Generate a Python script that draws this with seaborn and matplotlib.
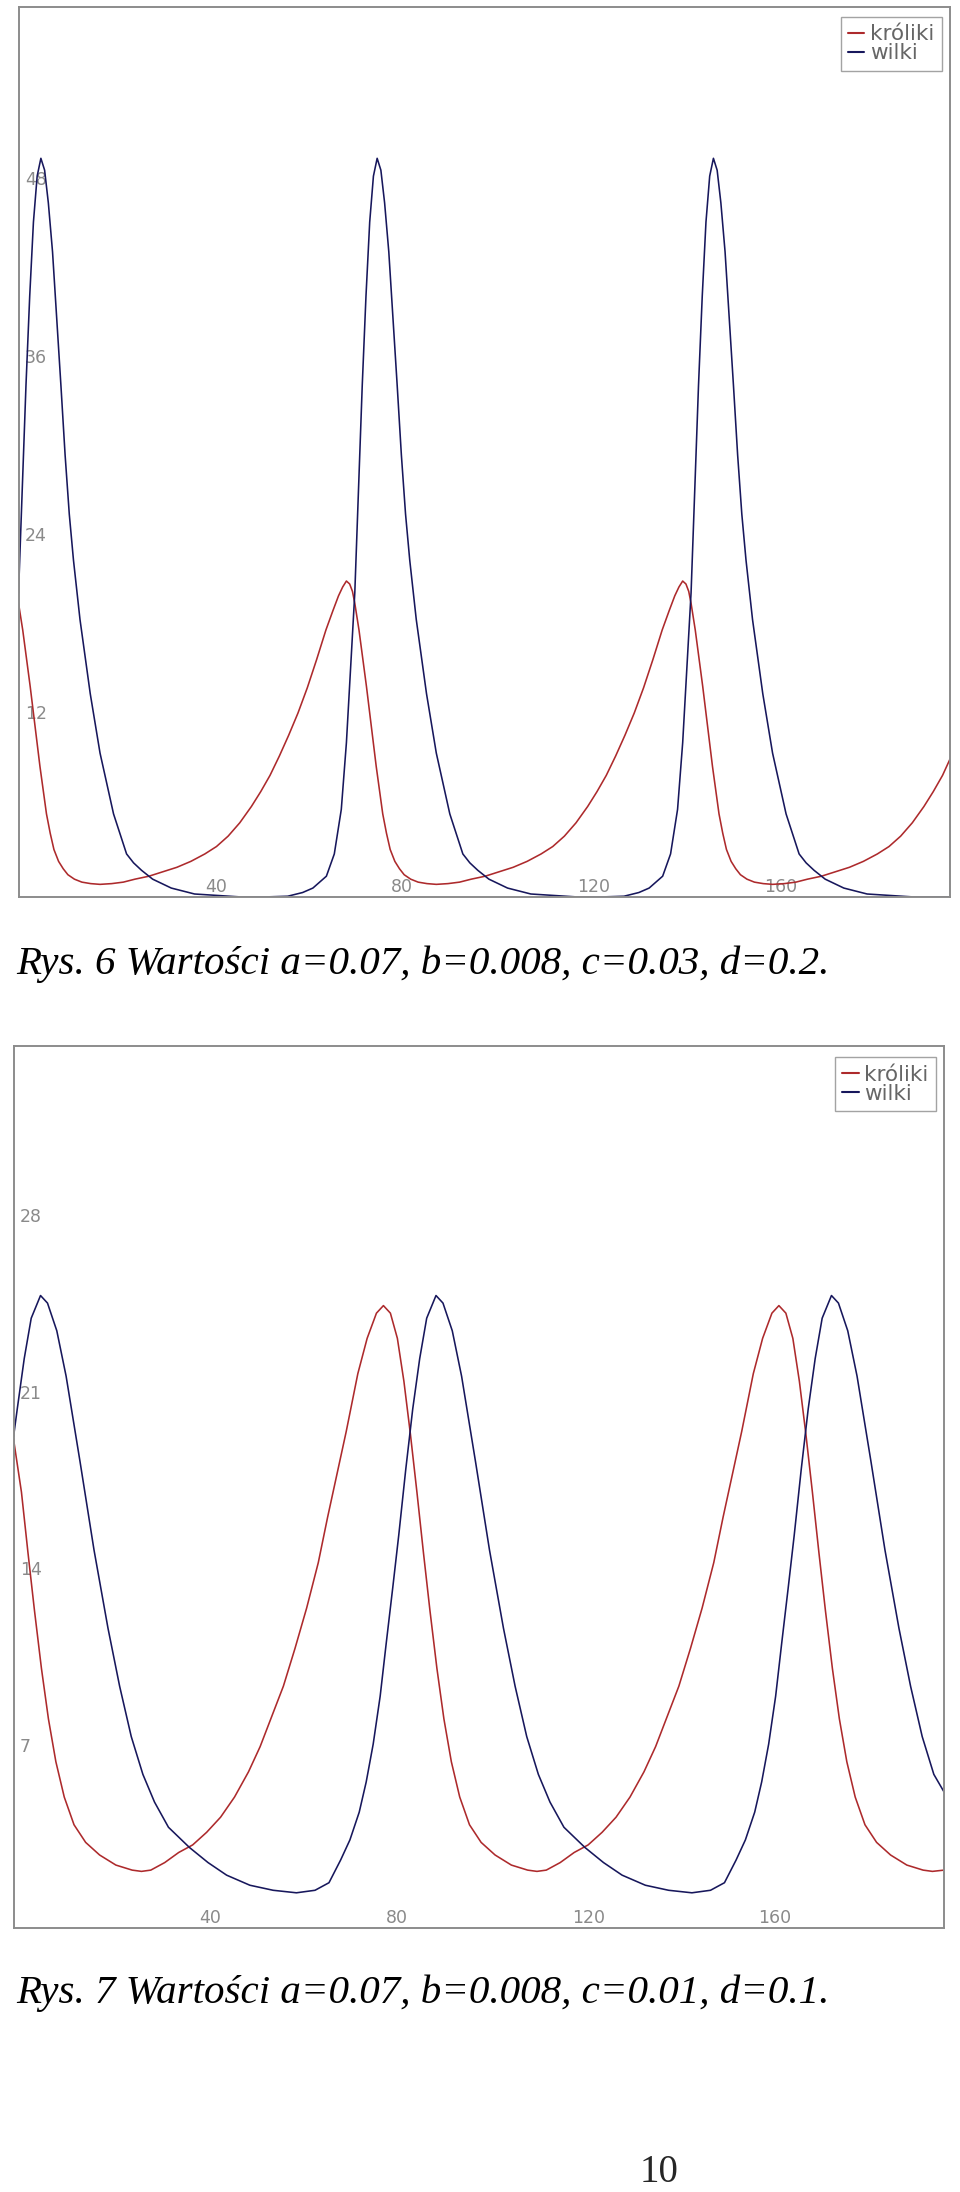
import numpy as np
import pandas as pd
import matplotlib
matplotlib.use("Agg")
import matplotlib.pyplot as plt
import seaborn as sns

# ─────────────────────────────────────────
# DATA
# ─────────────────────────────────────────
# Rys. 6: a=0.07, b=0.008, c=0.03, d=0.2
t_kroliki_6 = [0.0, 0.9, 1.7, 2.5, 3.2, 3.9, 4.6, 5.3, 6.0, 6.8, 7.6, 8.6, 9.6, 10.6, 12.0, 13.6,
               15.5, 17.5, 20.0, 22.5, 25.0, 28.0, 31.0, 34.0, 37.0, 40.0, 42.5, 45.0, 47.5, 50.0,
               52.0, 54.0, 56.0, 58.0, 60.0, 62.0, 64.0, 66.0, 67.5, 68.7, 69.6, 70.4, 71.1, 71.7,
               72.2, 73.1, 73.9, 74.7, 75.4, 76.1, 76.8, 77.5, 78.2, 79.0, 79.8, 80.8, 81.8, 82.8,
               84.2, 85.8, 87.7, 89.7, 92.2, 94.7, 97.2, 100.2, 103.2, 106.2, 109.2, 112.2, 114.7,
               117.2, 119.7, 122.2, 124.2, 126.2, 128.2, 130.2, 132.2, 134.2, 136.2, 138.2, 139.7,
               140.9, 141.8, 142.6, 143.3, 143.9,
               144.4, 145.3, 146.1, 146.9, 147.6, 148.3, 149.0, 149.7, 150.4, 151.2, 152.0, 153.0,
               154.0, 155.0, 156.4, 158.0, 159.9, 161.9, 164.4, 166.9, 169.4, 172.4, 175.4, 178.4,
               181.4, 184.4, 186.9, 189.4, 191.9, 194.4, 196.4, 198.4, 200.0]
kroliki_6 = [19.8, 18.0, 16.1, 14.2, 12.4, 10.6, 8.8, 7.2, 5.6, 4.3, 3.2, 2.4, 1.9, 1.5, 1.2, 1.0,
             0.9, 0.85, 0.9, 1.0, 1.2, 1.4, 1.7, 2.0, 2.4, 2.9, 3.4, 4.1, 5.0, 6.1,
             7.1, 8.2, 9.5, 10.9, 12.4, 14.1, 16.0, 18.0, 19.3, 20.3, 20.9, 21.3, 21.1, 20.6,
             19.8, 18.0, 16.1, 14.2, 12.4, 10.6, 8.8, 7.2, 5.6, 4.3, 3.2, 2.4, 1.9, 1.5,
             1.2, 1.0, 0.9, 0.85, 0.9, 1.0, 1.2, 1.4, 1.7, 2.0, 2.4, 2.9, 3.4,
             4.1, 5.0, 6.1, 7.1, 8.2, 9.5, 10.9, 12.4, 14.1, 16.0, 18.0, 19.3,
             20.3, 20.9, 21.3, 21.1, 20.6,
             19.8, 18.0, 16.1, 14.2, 12.4, 10.6, 8.8, 7.2, 5.6, 4.3, 3.2, 2.4,
             1.9, 1.5, 1.2, 1.0, 0.9, 0.85, 0.9, 1.0, 1.2, 1.4, 1.7, 2.0,
             2.4, 2.9, 3.4, 4.1, 5.0, 6.1, 7.1, 8.2, 9.3]

t_wilki_6 = [0.0, 0.8, 1.6, 2.4, 3.2, 4.0, 4.8, 5.6, 6.4, 7.3, 8.2, 9.1, 10.0, 10.9, 11.8, 13.2,
             15.4, 17.5, 20.4, 23.2, 24.7, 26.4, 28.8, 32.8, 37.8, 42.8, 47.8, 52.8, 57.8, 61.0,
             63.2, 66.1, 67.8, 69.3, 70.4, 71.4, 72.2,
             73.0, 73.8, 74.6, 75.4, 76.2, 77.0, 77.8, 78.6, 79.5, 80.4, 81.3, 82.2, 83.1, 84.0,
             85.4, 87.6, 89.7, 92.6, 95.4, 96.9, 98.6, 101.0, 105.0, 110.0, 115.0, 120.0, 125.0,
             130.0, 133.2, 135.4, 138.3, 140.0, 141.5, 142.6, 143.6, 144.4,
             145.2, 146.0, 146.8, 147.6, 148.4, 149.2, 150.0, 150.8, 151.7, 152.6, 153.5, 154.4,
             155.3, 156.2, 157.6, 159.8, 161.9, 164.8, 167.6, 169.1, 170.8, 173.2, 177.2, 182.2,
             187.2, 192.2, 197.2, 200.0]
wilki_6 = [20.5, 27.5, 34.5, 40.5, 45.5, 48.6, 49.8, 49.0, 46.8, 43.5, 39.0, 34.5, 29.8, 25.8, 22.7, 18.7,
           13.7, 9.7, 5.6, 2.9, 2.3, 1.8, 1.2, 0.6, 0.2, 0.1, 0.0, 0.0, 0.05, 0.3,
           0.6, 1.4, 2.9, 5.9, 10.4, 16.0, 20.5,
           27.5, 34.5, 40.5, 45.5, 48.6, 49.8, 49.0, 46.8, 43.5, 39.0, 34.5, 29.8, 25.8, 22.7,
           18.7, 13.7, 9.7, 5.6, 2.9, 2.3, 1.8, 1.2, 0.6, 0.2, 0.1, 0.0, 0.0,
           0.05, 0.3, 0.6, 1.4, 2.9, 5.9, 10.4, 16.0, 20.5,
           27.5, 34.5, 40.5, 45.5, 48.6, 49.8, 49.0, 46.8, 43.5, 39.0, 34.5, 29.8,
           25.8, 22.7, 18.7, 13.7, 9.7, 5.6, 2.9, 2.3, 1.8, 1.2, 0.6, 0.2,
           0.1, 0.0, 0.0, 0.0]

# Rys. 7: a=0.07, b=0.008, c=0.01, d=0.1
t_kroliki_7 = [0.0, 1.7, 3.1, 4.5, 6.0, 7.5, 9.1, 10.9, 13.0, 15.5, 18.5, 22.0, 25.5, 27.5, 29.5,
               32.5, 35.5, 38.5, 41.5, 44.5, 47.5, 50.5, 53.0, 55.5, 58.0, 60.5, 63.0, 65.5, 67.5,
               69.5, 71.5, 74.0, 76.0, 78.0, 79.5,
               81.0, 82.5, 83.9, 85.3, 86.7, 88.1, 89.5, 91.0, 92.5, 94.1, 95.9, 98.0, 100.5, 103.5,
               107.0, 110.5, 112.5, 114.5, 117.5, 120.5, 123.5, 126.5, 129.5, 132.5, 135.5, 138.0,
               140.5, 143.0, 145.5, 148.0, 150.5, 152.5, 154.5, 156.5, 159.0, 161.0, 163.0, 164.5,
               166.0, 167.5, 168.9, 170.3, 171.7, 173.1, 174.5, 176.0, 177.5, 179.1, 180.9, 183.0,
               185.5, 188.5, 192.0, 195.5, 197.5, 200.0]
kroliki_7 = [19.4, 17.3, 14.9, 12.6, 10.3, 8.3, 6.6, 5.2, 4.1, 3.4, 2.9, 2.5, 2.3, 2.25, 2.3,
             2.6, 3.0, 3.3, 3.8, 4.4, 5.2, 6.2, 7.2, 8.4, 9.6, 11.1, 12.7, 14.5, 16.3,
             18.0, 19.7, 22.0, 23.4, 24.4, 24.7,
             24.4, 23.4, 21.7, 19.6, 17.3, 14.9, 12.6, 10.3, 8.3, 6.6, 5.2, 4.1, 3.4, 2.9,
             2.5, 2.3, 2.25, 2.3, 2.6, 3.0, 3.3, 3.8, 4.4, 5.2, 6.2, 7.2,
             8.4, 9.6, 11.1, 12.7, 14.5, 16.3, 18.0, 19.7, 22.0, 23.4, 24.4, 24.7,
             24.4, 23.4, 21.7, 19.6, 17.3, 14.9, 12.6, 10.3, 8.3, 6.6, 5.2, 4.1,
             3.4, 2.9, 2.5, 2.3, 2.25, 2.3]

t_wilki_7 = [0.0, 0.8, 2.3, 3.8, 5.8, 7.3, 9.3, 11.3, 14.3, 17.3, 20.3, 22.8, 25.3, 27.8, 30.3,
             33.3, 37.8, 41.8, 45.8, 50.8, 55.8, 60.8, 64.8, 67.8, 70.3, 72.3, 74.3, 75.8, 77.3,
             78.8, 80.1, 81.5, 82.8, 84.3, 85.8, 87.3, 88.8, 90.8,
             92.3, 94.3, 96.3, 99.3, 102.3, 105.3, 107.8, 110.3, 112.8, 115.3, 118.3, 122.8,
             126.8, 130.8, 135.8, 140.8, 145.8, 149.8, 152.8, 155.3, 157.3, 159.3, 160.8, 162.3,
             163.8, 165.1, 166.5, 167.8, 169.3, 170.8, 172.3, 173.8, 175.8,
             177.3, 179.3, 181.3, 184.3, 187.3, 190.3, 192.8, 195.3, 197.8, 200.0]
wilki_7 = [19.5, 20.6, 22.6, 24.2, 25.1, 24.8, 23.7, 21.9, 18.5, 15.0, 11.9, 9.6, 7.6, 6.1, 5.0,
           4.0, 3.2, 2.6, 2.1, 1.7, 1.5, 1.4, 1.5, 1.8, 2.7, 3.5, 4.6, 5.8, 7.3,
           9.2, 11.3, 13.5, 15.6, 18.2, 20.6, 22.6, 24.2, 25.1,
           24.8, 23.7, 21.9, 18.5, 15.0, 11.9, 9.6, 7.6, 6.1, 5.0, 4.0, 3.2,
           2.6, 2.1, 1.7, 1.5, 1.4, 1.5, 1.8, 2.7, 3.5, 4.6, 5.8, 7.3,
           9.2, 11.3, 13.5, 15.6, 18.2, 20.6, 22.6, 24.2, 25.1,
           24.8, 23.7, 21.9, 18.5, 15.0, 11.9, 9.6, 7.6, 6.1, 5.4]

GATUNKI = ["króliki", "wilki"]
KOLORY = {"króliki": "#ad2a2c", "wilki": "#17175c"}

XTICKS = [40, 80, 120, 160]
YTICKS_6 = [12, 24, 36, 48]
YTICKS_7 = [7, 14, 21, 28]

PODPIS_6 = "Rys. 6 Wartości a=0.07, b=0.008, c=0.03, d=0.2."
PODPIS_7 = "Rys. 7 Wartości a=0.07, b=0.008, c=0.01, d=0.1."
# ─────────────────────────────────────────


def to_frame(t_k, k, t_w, w):
    a = pd.DataFrame({"czas": t_k, "liczba": k, "gatunek": GATUNKI[0]})
    b = pd.DataFrame({"czas": t_w, "liczba": w, "gatunek": GATUNKI[1]})
    return pd.concat([a, b], ignore_index=True)


def draw_panel(ax, df, ymax, yticks, leg_anchor):
    sns.lineplot(data=df, x="czas", y="liczba", hue="gatunek", hue_order=GATUNKI,
                 palette=KOLORY, estimator=None, sort=False, linewidth=1.15,
                 legend=False, ax=ax)
    ax.set_xlim(0, 200)
    ax.set_ylim(0, ymax)
    ax.set_xlabel("")
    ax.set_ylabel("")

    # tick labels drawn inside the frame, like the original applet
    ax.set_xticks(XTICKS)
    ax.set_yticks(yticks)
    ax.tick_params(axis="x", length=0, pad=-14, labelsize=12.5, labelcolor="#8a8a8a")
    ax.tick_params(axis="y", length=0, pad=-4.5, labelsize=12.5, labelcolor="#8a8a8a")
    for lab in ax.get_xticklabels():
        lab.set_ha("left")
    for lab in ax.get_yticklabels():
        lab.set_ha("left")
        lab.set_va("baseline")

    for sp in ax.spines.values():
        sp.set_color("#8c8c8c")
        sp.set_linewidth(1.4)

    leg = ax.legend(ax.lines[:2], GATUNKI, loc="upper right", bbox_to_anchor=leg_anchor,
                    borderaxespad=0, fontsize=15.5, frameon=True, fancybox=False,
                    handlelength=0.75, handletextpad=0.25, borderpad=0.35,
                    labelspacing=-0.05, labelcolor="#666666")
    leg.get_frame().set_edgecolor("#8c8c8c")
    leg.get_frame().set_linewidth(1.0)
    for h in leg.get_lines():
        h.set_linewidth(1.5)


sns.set_style("white")
plt.rcParams["font.family"] = ["DejaVu Sans"]

fig = plt.figure(figsize=(9.6, 21.92), dpi=100)
fig.patch.set_facecolor("white")

ax1 = fig.add_axes([0.0193, 0.5908, 0.9703, 0.4060])
draw_panel(ax1, to_frame(t_kroliki_6, kroliki_6, t_wilki_6, wilki_6), 60, YTICKS_6,
           (0.991, 0.989))

ax2 = fig.add_axes([0.0141, 0.1204, 0.9693, 0.4024])
draw_panel(ax2, to_frame(t_kroliki_7, kroliki_7, t_wilki_7, wilki_7), 35, YTICKS_7,
           (0.991, 0.987))

cap = dict(family=["Liberation Serif", "DejaVu Serif"], style="italic", fontsize=29.5,
           color="black", ha="left", va="baseline")
fig.text(16 / 960, 1 - 974 / 2192, PODPIS_6, **cap)
fig.text(16 / 960, 1 - 2003 / 2192, PODPIS_7, **cap)
fig.text(659 / 960, 1 - 2182 / 2192, "10", family=["Liberation Serif", "DejaVu Serif"],
         fontsize=28, ha="center", va="baseline")

fig.savefig("out.png", dpi=100, facecolor="white")
